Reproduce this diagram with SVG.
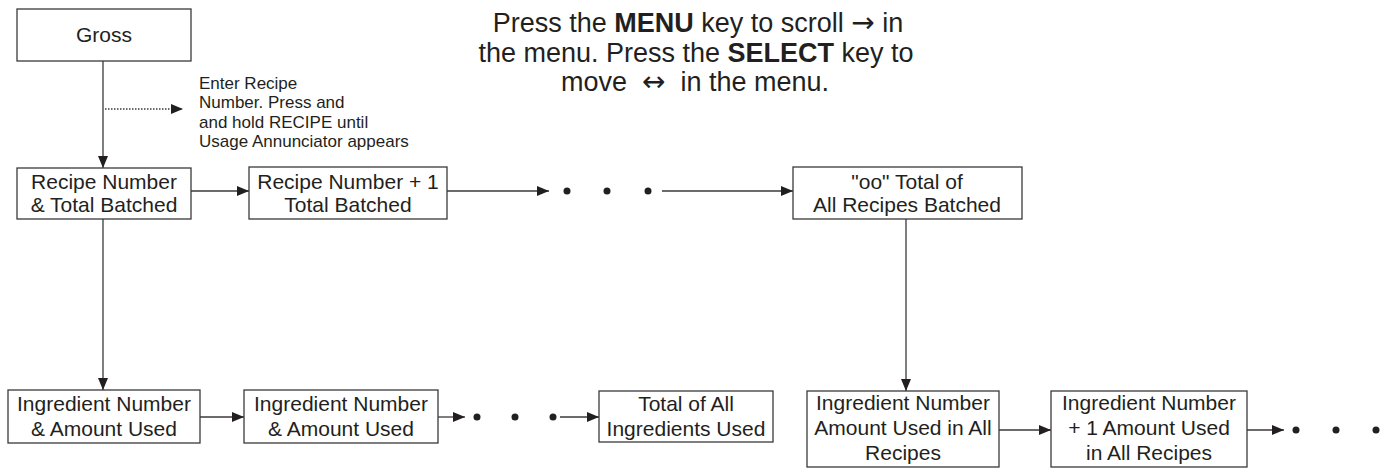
<svg xmlns="http://www.w3.org/2000/svg" width="1390" height="468" viewBox="0 0 1390 468">
<defs>
<style>
.box{fill:#fff;stroke:#3a3a3a;stroke-width:1.3}
.t{font-family:"Liberation Sans",Arial,sans-serif;font-size:21px;fill:#231f20;text-anchor:middle}
.n{font-family:"Liberation Sans",Arial,sans-serif;font-size:17px;fill:#231f20}
.h{font-family:"Liberation Sans",Arial,sans-serif;font-size:27px;fill:#231f20;text-anchor:middle}
.ar{font-family:"DejaVu Sans",sans-serif;font-size:28px}
.ln{stroke:#3a3a3a;stroke-width:1.3;fill:none}
.dot{fill:#231f20}
</style>
<marker id="ah" viewBox="0 0 12 10" refX="12" refY="5" markerWidth="12" markerHeight="10" markerUnits="userSpaceOnUse" orient="auto">
<path d="M0,0 L12,5 L0,10 Z" fill="#231f20"/>
</marker>
</defs>
<rect width="1390" height="468" fill="#fff"/>

<g id="header">
<text class="h" x="698" y="32">Press the <tspan font-weight="bold">MENU</tspan> key to scroll <tspan class="ar">→</tspan> in</text>
<text class="h" x="696" y="62">the menu. Press the <tspan font-weight="bold">SELECT</tspan> key to</text>
<text class="h" x="695" y="91" xml:space="preserve">move  <tspan class="ar">↔</tspan>  in the menu.</text>
</g>

<g id="connectors">
<line class="ln" x1="103" y1="61" x2="103" y2="168" marker-end="url(#ah)"/>
<line class="ln" x1="105" y1="109" x2="183" y2="109" stroke-dasharray="1.5,1.5" marker-end="url(#ah)"/>
<line class="ln" x1="191" y1="191" x2="249" y2="191" marker-end="url(#ah)"/>
<line class="ln" x1="447" y1="191" x2="549" y2="191" marker-end="url(#ah)"/>
<line class="ln" x1="662" y1="191" x2="793" y2="191" marker-end="url(#ah)"/>
<line class="ln" x1="103" y1="219" x2="103" y2="390" marker-end="url(#ah)"/>
<line class="ln" x1="906" y1="219" x2="906" y2="391" marker-end="url(#ah)"/>
<line class="ln" x1="200" y1="417" x2="244" y2="417" marker-end="url(#ah)"/>
<line class="ln" x1="438" y1="417" x2="465" y2="417" marker-end="url(#ah)"/>
<line class="ln" x1="560" y1="417" x2="599" y2="417" marker-end="url(#ah)"/>
<line class="ln" x1="999" y1="430" x2="1051" y2="430" marker-end="url(#ah)"/>
<line class="ln" x1="1247" y1="430" x2="1284" y2="430" marker-end="url(#ah)"/>
<circle class="dot" cx="567" cy="191" r="3.5"/>
<circle class="dot" cx="607" cy="191" r="3.5"/>
<circle class="dot" cx="648" cy="191" r="3.5"/>
<circle class="dot" cx="477" cy="417" r="3.5"/>
<circle class="dot" cx="515" cy="417" r="3.5"/>
<circle class="dot" cx="553" cy="417" r="3.5"/>
<circle class="dot" cx="1296" cy="430" r="3.5"/>
<circle class="dot" cx="1336" cy="430" r="3.5"/>
<circle class="dot" cx="1376" cy="430" r="3.5"/>
</g>

<g id="note">
<text class="n" x="199" y="89">Enter Recipe</text>
<text class="n" x="199" y="108">Number. Press and</text>
<text class="n" x="199" y="128">and hold RECIPE until</text>
<text class="n" x="199" y="147">Usage Annunciator appears</text>
</g>

<g id="gross">
<rect class="box" x="17" y="9" width="174" height="52"/>
<text class="t" x="104" y="42">Gross</text>
</g>

<g id="recipe">
<rect class="box" x="17" y="168" width="174" height="51"/>
<text class="t" x="104" y="189">Recipe Number</text>
<text class="t" x="104" y="212">&amp; Total Batched</text>
</g>

<g id="recipe1">
<rect class="box" x="249" y="167" width="198" height="52"/>
<text class="t" x="348" y="189">Recipe Number + 1</text>
<text class="t" x="348" y="212">Total Batched</text>
</g>

<g id="allrecipes">
<rect class="box" x="793" y="167" width="229" height="52"/>
<text class="t" x="907" y="189">"oo" Total of</text>
<text class="t" x="907" y="212">All Recipes Batched</text>
</g>

<g id="ingredient">
<rect class="box" x="8" y="390" width="192" height="53"/>
<text class="t" x="104" y="411">Ingredient Number</text>
<text class="t" x="104" y="436">&amp; Amount Used</text>
</g>

<g id="ingredient2">
<rect class="box" x="244" y="390" width="194" height="53"/>
<text class="t" x="341" y="411">Ingredient Number</text>
<text class="t" x="341" y="436">&amp; Amount Used</text>
</g>

<g id="totalingredients">
<rect class="box" x="599" y="391" width="174" height="51"/>
<text class="t" x="686" y="411">Total of All</text>
<text class="t" x="686" y="436">Ingredients Used</text>
</g>

<g id="ingredientall">
<rect class="box" x="807" y="391" width="192" height="76"/>
<text class="t" x="903" y="410">Ingredient Number</text>
<text class="t" x="903" y="435">Amount Used in All</text>
<text class="t" x="903" y="460">Recipes</text>
</g>

<g id="ingredientall1">
<rect class="box" x="1051" y="391" width="196" height="76"/>
<text class="t" x="1149" y="410">Ingredient Number</text>
<text class="t" x="1149" y="435">+ 1 Amount Used</text>
<text class="t" x="1149" y="460">in All Recipes</text>
</g>
</svg>
